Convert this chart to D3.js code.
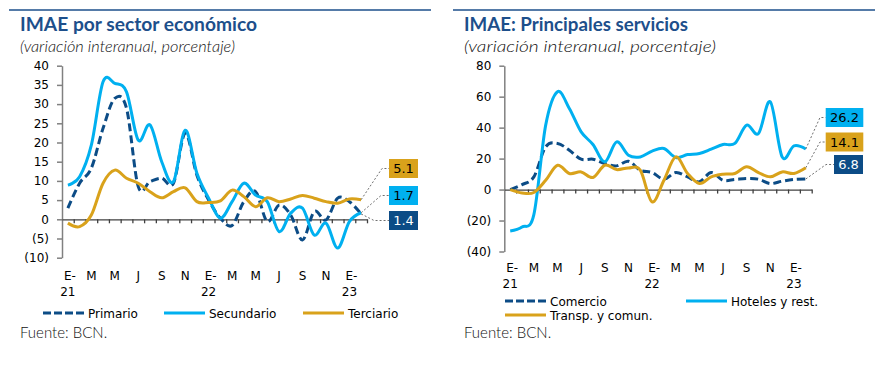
<!DOCTYPE html>
<html>
<head>
<meta charset="utf-8">
<script src="https://cdn.jsdelivr.net/npm/d3@7"></script>
<style>
  body { margin: 0; background: #fff; }
  svg { display: block; }
</style>
</head>
<body>
<svg></svg>
<script>
// monthly data, Jan 2021 .. Feb 2023
const monthLabels = ["E-", "M", "M", "J", "S", "N", "E-", "M", "M", "J", "S", "N", "E-"];
const yearLabels = ["21", "", "", "", "", "", "22", "", "", "", "", "", "23"];

const primario = [2.9, 9.4, 13.3, 23.7, 31.5, 28.9, 8.5, 9.8, 10.7, 9.4, 22.4, 11.5, 5.0,
  0.3, -1.6, 4.6, 7.2, -0.6, 3.7, 1.1, -5.4, 2.0, -0.2, 5.5, 4.6, 1.4];
const secundario = [8.9, 11.1, 19.3, 35.8, 35.4, 33.2, 20.6, 24.6, 15.0, 9.8, 23.2, 12.0, 5.5,
  0.3, 4.6, 9.4, 6.3, 4.6, -3.2, 1.6, 2.9, -4.1, -1.0, -7.5, -0.6, 1.7];
const terciario = [-1.0, -1.9, 1.1, 9.4, 12.8, 10.7, 9.4, 7.2, 5.6, 7.2, 8.2, 4.6, 4.4,
  4.8, 7.6, 5.9, 3.3, 5.6, 4.6, 5.3, 6.2, 5.5, 4.6, 4.2, 5.3, 5.1];

const comercio = [0, 3.2, 8.2, 27.6, 29.8, 25.4, 19.6, 19.6, 16.8, 15.3, 18.3, 12.5, 11.0,
  6.7, 11.0, 8.2, 5.0, 11.0, 6.0, 6.5, 7.1, 6.7, 3.9, 5.4, 6.5, 6.8];
const hoteles = [-26.7, -24.2, -16.2, 41.6, 63.2, 52.4, 37.3, 29.1, 17.9, 30.8, 22.2, 21.1, 24.8,
  26.5, 20.7, 22.6, 23.3, 26.1, 29.1, 29.8, 41.6, 36.2, 56.7, 21.1, 28.2, 26.2];
const transporte = [0, -2.2, -1.9, 6.0, 15.7, 10.4, 11.4, 7.8, 15.7, 12.9, 14.0, 12.5, -8.0,
  6.0, 21.1, 10.4, 3.9, 8.2, 9.9, 10.4, 14.7, 11.0, 8.2, 11.4, 10.4, 14.1];

const leftTicks = [40, 35, 30, 25, 20, 15, 10, 5, 0, -5, -10];
const rightTicks = [80, 60, 40, 20, 0, -20, -40];

const navy = "#0c4c86";
const cyan = "#00b0f0";
const gold = "#d9a21b";
const titleColor = "#1d4f8b";
const nMonths = primario.length;

const svg = d3.select("svg")
  .attr("width", 884)
  .attr("height", 372);

const fmt = (d) => d < 0 ? "(" + (-d) + ")" : d;

function drawPanel(p) {
  const g = svg.append("g");

  // header
  g.append("line")
    .attr("x1", p.ruleX[0]).attr("x2", p.ruleX[1])
    .attr("y1", 10).attr("y2", 10)
    .attr("stroke", titleColor).attr("stroke-width", 1.5);
  g.append("text")
    .attr("x", p.textX).attr("y", 31)
    .attr("fill", titleColor)
    .attr("font-family", "Lato").attr("font-weight", "bold").attr("font-size", 18)
    .attr("textLength", p.titleW).attr("lengthAdjust", "spacingAndGlyphs")
    .text(p.title);
  g.append("text")
    .attr("x", p.textX).attr("y", 52)
    .attr("fill", "#111")
    .attr("font-family", "Lato").attr("font-style", "italic").attr("font-weight", 300).attr("font-size", 15)
    .attr("textLength", p.subW).attr("lengthAdjust", "spacingAndGlyphs")
    .text("(variación interanual, porcentaje)");

  const x = d3.scaleLinear().domain([0, nMonths]).range(p.xRange);
  const y = d3.scaleLinear().domain(p.yDomain).range(p.yRange);

  // y axis
  const ya = g.append("g")
    .attr("transform", "translate(" + p.xRange[0] + ",0)")
    .call(d3.axisLeft(y).tickValues(p.ticks).tickFormat(fmt).tickSize(5).tickSizeOuter(0).tickPadding(8));
  ya.selectAll("path, line").attr("stroke", "#808080").attr("stroke-width", 1.5);
  ya.selectAll("text").attr("font-family", "DejaVu Sans").attr("font-size", 12).attr("fill", "#000");

  // x axis on zero line
  const xa = g.append("g")
    .attr("transform", "translate(0," + y(0) + ")")
    .call(d3.axisBottom(x).tickValues(d3.range(1, nMonths + 1)).tickFormat("").tickSize(4).tickSizeOuter(0));
  xa.selectAll("path, line").attr("stroke", "#404040").attr("stroke-width", 1.3);

  // month labels every two months
  const lab = g.append("g")
    .attr("font-family", "DejaVu Sans").attr("font-size", 12)
    .attr("text-anchor", "middle").attr("fill", "#000");
  monthLabels.forEach((m, k) => {
    const cx = x(2 * k + 0.5);
    lab.append("text").attr("x", cx + (m === "E-" ? 2 : 0)).attr("y", p.labelY).text(m);
    if (yearLabels[k]) {
      lab.append("text").attr("x", cx).attr("y", p.labelY + 16).text(yearLabels[k]);
    }
  });

  const line = d3.line()
    .x((d, i) => x(i + 0.5))
    .y((d) => y(d))
    .curve(d3.curveCardinal.tension(0));

  p.series.forEach((s) => {
    g.append("path")
      .datum(s.values)
      .attr("fill", "none")
      .attr("stroke", s.color)
      .attr("stroke-width", 3)
      .attr("stroke-dasharray", s.dash ? "8,4" : null)
      .attr("d", line);
  });

  // end labels with leaders
  p.series.forEach((s) => {
    const b = s.box;
    const last = s.values[s.values.length - 1];
    const ex = x(nMonths - 0.5);
    const ey = y(last);
    const cy = b.y + b.h / 2;
    g.append("path")
      .attr("d", "M" + ex + "," + ey + "L" + b.elbow + "," + cy + "L" + b.x + "," + cy)
      .attr("fill", "none")
      .attr("stroke", "#707070")
      .attr("stroke-width", 1)
      .attr("stroke-dasharray", "2,2");
    g.append("rect")
      .attr("x", b.x).attr("y", b.y)
      .attr("width", b.w).attr("height", b.h)
      .attr("fill", s.color);
    g.append("text")
      .attr("x", b.x + b.w / 2).attr("y", cy + 4.5)
      .attr("text-anchor", "middle")
      .attr("font-family", "DejaVu Sans").attr("font-size", 13)
      .attr("fill", s.color === navy ? "#fff" : "#000")
      .text(last.toFixed(1));
  });

  // legend
  p.series.forEach((s) => {
    const l = s.legend;
    g.append("line")
      .attr("x1", l.x).attr("x2", l.x + 41)
      .attr("y1", l.y).attr("y2", l.y)
      .attr("stroke", s.color).attr("stroke-width", 3)
      .attr("stroke-dasharray", s.dash ? "8,3" : null);
    g.append("text")
      .attr("x", l.x + 45).attr("y", l.y + 4.5)
      .attr("font-family", "DejaVu Sans").attr("font-size", 12).attr("fill", "#000")
      .text(s.name);
  });

  g.append("text")
    .attr("x", p.textX).attr("y", 338)
    .attr("font-family", "Lato").attr("font-weight", 300).attr("font-size", 15).attr("fill", "#111")
    .text("Fuente: BCN.");
}

drawPanel({
  title: "IMAE por sector económico",
  ruleX: [9, 431], textX: 20, titleW: 237, subW: 215,
  xRange: [62, 367], yDomain: [-10, 40], yRange: [257.7, 65.7], ticks: leftTicks,
  labelY: 280,
  series: [
    { name: "Primario", values: primario, color: navy, dash: true,
      box: { x: 389, y: 211, w: 29, h: 19, elbow: 374 }, legend: { x: 43, y: 313 } },
    { name: "Secundario", values: secundario, color: cyan,
      box: { x: 389, y: 186, w: 29, h: 19, elbow: 381 }, legend: { x: 164, y: 313 } },
    { name: "Terciario", values: terciario, color: gold,
      box: { x: 389, y: 159, w: 29, h: 19, elbow: 382 }, legend: { x: 303, y: 313 } }
  ]
});

drawPanel({
  title: "IMAE: Principales servicios",
  ruleX: [453, 875], textX: 464, titleW: 224, subW: 252,
  xRange: [504.3, 811.7], yDomain: [-40, 80], yRange: [251.5, 65.7], ticks: rightTicks,
  labelY: 272,
  series: [
    { name: "Comercio", values: comercio, color: navy, dash: true,
      box: { x: 834, y: 155, w: 29, h: 19, elbow: 826 }, legend: { x: 505, y: 301 } },
    { name: "Hoteles y rest.", values: hoteles, color: cyan,
      box: { x: 825.7, y: 108, w: 37.6, h: 19, elbow: 820 }, legend: { x: 686, y: 301 } },
    { name: "Transp. y comun.", values: transporte, color: gold,
      box: { x: 825.7, y: 132.5, w: 37.6, h: 19, elbow: 820 }, legend: { x: 505, y: 315 } }
  ]
});
</script>
</body>
</html>
